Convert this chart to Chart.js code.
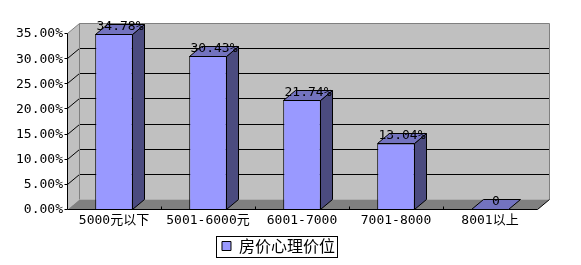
<!DOCTYPE html>
<html>
<head>
<meta charset="utf-8">
<script src="https://cdn.jsdelivr.net/npm/chart.js@4.4.1/dist/chart.umd.min.js"></script>
<style>
    html, body { margin: 0; padding: 0; background: #fff; }
</style>
</head>
<body>
<canvas id="grafico" width="581" height="265"></canvas>
<script>
const categorias = ['5000元以下', '5001-6000元', '6001-7000', '7001-8000', '8001以上'];
const percentuais = [34.78, 30.43, 21.74, 13.04, 0];
const ticksY = [0, 5, 10, 15, 20, 25, 30, 35];
const nomeSerie = '房价心理价位';

// profundidade do efeito 3D
const DX = 12, DY = -10;
const FONTE_NUM = '"DejaVu Sans Mono", "Noto Sans CJK SC", monospace';

function poligono(ctx, pts, fill, stroke) {
    ctx.beginPath();
    pts.forEach(([px, py], i) => i ? ctx.lineTo(px, py) : ctx.moveTo(px, py));
    ctx.closePath();
    if (fill) { ctx.fillStyle = fill; ctx.fill(); }
    if (stroke) { ctx.strokeStyle = stroke; ctx.lineWidth = 1; ctx.stroke(); }
}

function linha(ctx, pts, cor) {
    ctx.beginPath();
    pts.forEach(([px, py], i) => i ? ctx.lineTo(px, py) : ctx.moveTo(px, py));
    ctx.strokeStyle = cor;
    ctx.lineWidth = 1;
    ctx.stroke();
}

function rotulo(v) {
    return v === 0 ? '0' : v.toFixed(2) + '%';
}

const cena3d = {
    id: 'cena3d',
    afterLayout(chart) {
        // legenda um pouco deslocada para a direita, como no original
        chart.legend.left += 10;
        chart.legend.right += 10;
    },
    beforeDatasetsDraw(chart) {
        const { ctx, chartArea } = chart;
        const L = chartArea.left + 0.5, R = chartArea.right + 0.5;
        const T = chartArea.top + 0.5, B = chartArea.bottom + 0.5;
        const y = chart.scales.y;
        const x = chart.scales.x;
        ctx.save();
        // parede do fundo, parede lateral e piso
        poligono(ctx, [[L + DX, T + DY], [R + DX, T + DY], [R + DX, B + DY], [L + DX, B + DY]], '#c0c0c0');
        poligono(ctx, [[L, T], [L + DX, T + DY], [L + DX, B + DY], [L, B]], '#c0c0c0');
        poligono(ctx, [[L, B], [R, B], [R + DX, B + DY], [L + DX, B + DY]], '#808080');

        // linhas de grade
        ticksY.forEach((v, i) => {
            if (i === 0 || i === ticksY.length - 1) return;
            const py = Math.round(y.getPixelForValue(v)) + 0.5;
            linha(ctx, [[L, py], [L + DX, py + DY], [R + DX, py + DY]], '#000');
        });
        // bordas cinza da parede
        linha(ctx, [[L, T], [L + DX, T + DY], [R + DX, T + DY], [R + DX, B + DY]], '#808080');
        linha(ctx, [[L + DX, T + DY], [L + DX, B + DY]], '#808080');

        // eixo vertical e marcas
        linha(ctx, [[L, T], [L, B]], '#000');
        ticksY.forEach(v => {
            const py = Math.round(y.getPixelForValue(v)) + 0.5;
            linha(ctx, [[L - 3, py], [L, py]], '#000');
        });
        // eixo horizontal frontal
        linha(ctx, [[L, B], [R, B], [R + DX, B + DY]], '#000');
        for (let i = 1; i < categorias.length; i++) {
            const px = Math.round((x.getPixelForValue(i - 1) + x.getPixelForValue(i)) / 2) + 0.5;
            linha(ctx, [[px, B - 3], [px, B]], '#000');
        }
        ctx.restore();
    },
    afterDatasetsDraw(chart) {
        const { ctx } = chart;
        const meta = chart.getDatasetMeta(0);
        ctx.save();
        meta.data.forEach((bar, i) => {
            const { x, y, base, width } = bar.getProps(['x', 'y', 'base', 'width'], true);
            const esq = Math.round(x - width / 2) + 0.5;
            const dir = Math.round(x + width / 2) - 0.5;
            const topo = Math.round(y) + 0.5;
            const fundo = Math.round(base) + 0.5;
            if (fundo - topo > 0.5) {
                poligono(ctx, [[dir, topo], [dir + DX, topo + DY], [dir + DX, fundo + DY], [dir, fundo]], '#4b4b7f', '#000');
            }
            poligono(ctx, [[esq, topo], [esq + DX, topo + DY], [dir + DX, topo + DY], [dir, topo]], '#7373bf', '#000');

            ctx.fillStyle = '#000';
            ctx.font = '13px ' + FONTE_NUM;
            ctx.textAlign = 'center';
            ctx.textBaseline = 'middle';
            ctx.fillText(rotulo(percentuais[i]), (esq + dir) / 2 + DX / 2, topo + DY + 2);
        });
        ctx.restore();
    },
    afterDraw(chart) {
        const { ctx } = chart;
        const hb = chart.legend.legendHitBoxes[0];
        if (!hb) return;
        const meio = hb.top + hb.height / 2;
        ctx.save();
        ctx.strokeStyle = '#000';
        ctx.lineWidth = 1;
        ctx.strokeRect(Math.round(hb.left - 6) + 0.5, Math.round(meio - 10.5) + 0.5,
            Math.round(hb.width + 8), 21);
        ctx.restore();
    }
};

new Chart(document.getElementById('grafico'), {
    type: 'bar',
    data: {
        labels: categorias,
        datasets: [{
            label: nomeSerie,
            data: percentuais,
            backgroundColor: '#9999ff',
            borderColor: '#000',
            borderWidth: 1,
            barPercentage: 0.4,
            categoryPercentage: 1
        }]
    },
    options: {
        responsive: false,
        animation: false,
        layout: { padding: { top: 33, right: 44, bottom: 1, left: 0 } },
        plugins: {
            tooltip: { enabled: false },
            legend: {
                position: 'bottom',
                labels: {
                    boxWidth: 9,
                    boxHeight: 9,
                    padding: 4,
                    color: '#000',
                    font: { family: '"Noto Sans CJK SC", sans-serif', size: 16 }
                }
            }
        },
        scales: {
            x: {
                grid: { display: false, drawTicks: false },
                border: { display: false },
                ticks: { color: '#000', padding: 4, maxRotation: 0, font: { family: FONTE_NUM, size: 13 } },
                afterFit(scale) { scale.height = 25; }
            },
            y: {
                min: 0,
                max: 35,
                afterBuildTicks(scale) { scale.ticks = ticksY.map(v => ({ value: v })); },
                grid: { display: false, drawTicks: false },
                border: { display: false },
                ticks: {
                    color: '#000',
                    padding: 4,
                    labelOffset: 1,
                    font: { family: FONTE_NUM, size: 13 },
                    callback: v => v.toFixed(2) + '%'
                },
                afterFit(scale) { scale.width = 67; }
            }
        }
    },
    plugins: [cena3d]
});
</script>
</body>
</html>
